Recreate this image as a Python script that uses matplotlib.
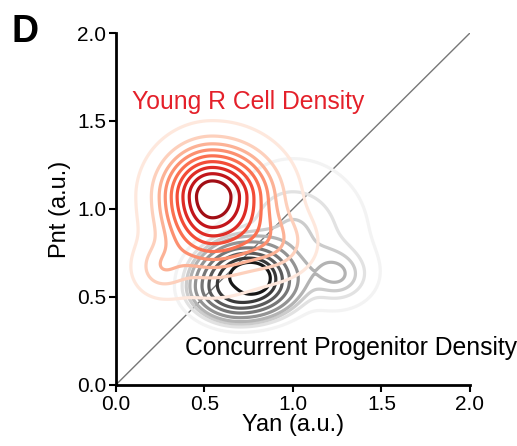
import numpy as np
import matplotlib.pyplot as plt

plt.rcParams['font.family'] = ['Liberation Sans', 'DejaVu Sans']

# blobs making up each density:
# centre x, centre y, spread left / right / down / up, profile power, weight
red_cx = [0.545, 0.25, 0.92]
red_cy = [1.07, 0.66, 0.80]
red_sl = [0.18, 0.10, 0.14]
red_sr = [0.21, 0.10, 0.14]
red_sd = [0.24, 0.10, 0.12]
red_su = [0.18, 0.10, 0.12]
red_p = [2, 2, 2]
red_w = [0.90, 0.04, 0.06]

grey_cx = [0.70, 1.00, 1.25]
grey_cy = [0.56, 0.86, 0.62]
grey_sl = [0.24, 0.22, 0.12]
grey_sr = [0.28, 0.24, 0.12]
grey_sd = [0.17, 0.20, 0.10]
grey_su = [0.22, 0.24, 0.10]
grey_p = [4, 2, 2]
grey_w = [0.62, 0.30, 0.08]

levels_prop = [0.05, 0.156, 0.261, 0.367, 0.472, 0.578, 0.683, 0.789, 0.894]


def density(X, Y, cx, cy, sl, sr, sd, su, pw, w):
    Z = np.zeros_like(X)
    for i in range(len(cx)):
        dx = X - cx[i]
        dy = Y - cy[i]
        sx = np.where(dx < 0, sl[i], sr[i])
        sy = np.where(dy < 0, sd[i], su[i])
        r = np.sqrt((dx/sx)**2 + (dy/sy)**2)
        g = np.exp(-0.5*r**pw[i])
        Z += w[i] * g / g.sum()
    return Z


def mass_levels(Z, props):
    vals = np.sort(Z.ravel())
    cum = np.cumsum(vals)
    cum /= cum[-1]
    return [vals[np.searchsorted(cum, p)] for p in props]


x = np.linspace(-0.3, 2.2, 450)
y = np.linspace(-0.3, 2.2, 450)
X, Y = np.meshgrid(x, y)

Zg = density(X, Y, grey_cx, grey_cy, grey_sl, grey_sr, grey_sd, grey_su, grey_p, grey_w)
Zr = density(X, Y, red_cx, red_cy, red_sl, red_sr, red_sd, red_su, red_p, red_w)

fig = plt.figure(figsize=(5.17, 4.46), dpi=100)
ax = fig.add_axes([0.224, 0.137, 0.685, 0.789])

ax.plot([0, 2], [0, 2], color='#777777', lw=1, zorder=1)

greys = plt.get_cmap('Greys')
reds = plt.get_cmap('Reds')
n = len(levels_prop)
ax.contour(X, Y, Zg, levels=mass_levels(Zg, levels_prop),
           colors=[greys(0.1 + 0.82*i/(n-1)) for i in range(n)], linewidths=2.3, zorder=2)
ax.contour(X, Y, Zr, levels=mass_levels(Zr, levels_prop),
           colors=[reds(0.08 + 0.8*i/(n-1)) for i in range(n)], linewidths=2.3, zorder=3)

ax.text(0.09, 1.61, 'Young R Cell Density', color='#e4202a', fontsize=17.8, va='center')
ax.text(0.39, 0.21, 'Concurrent Progenitor Density', color='black', fontsize=17.8, va='center')

ax.set_xlim(0, 2)
ax.set_ylim(0, 2)
ax.set_xticks([0, 0.5, 1.0, 1.5, 2.0])
ax.set_yticks([0, 0.5, 1.0, 1.5, 2.0])
ax.set_xticklabels(['0.0', '0.5', '1.0', '1.5', '2.0'])
ax.set_yticklabels(['0.0', '0.5', '1.0', '1.5', '2.0'])
ax.tick_params(labelsize=15, width=1.5, length=5, pad=2)
ax.set_xlabel('Yan (a.u.)', fontsize=17, labelpad=0)
ax.set_ylabel('Pnt (a.u.)', fontsize=17, labelpad=4)
for s in ['top', 'right']:
    ax.spines[s].set_visible(False)
for s in ['left', 'bottom']:
    ax.spines[s].set_linewidth(2)

fig.text(0.022, 0.928, 'D', fontsize=27, fontweight='bold', va='center')

fig.savefig('out.png', dpi=100)
